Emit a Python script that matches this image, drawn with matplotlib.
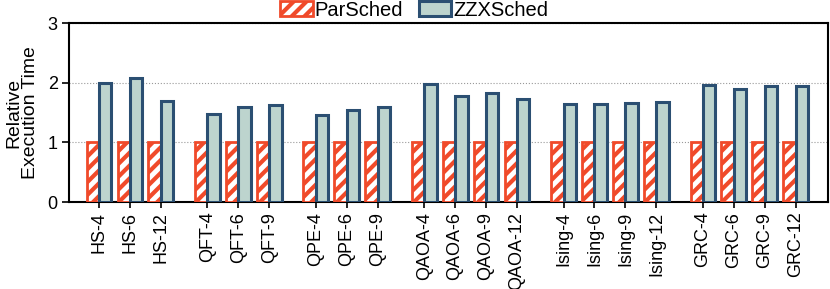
import numpy as np
import matplotlib.pyplot as plt

# hatch spacing follows the dpi, so render at 77 dpi and scale point sizes up
DPI = 77
K = 100 / DPI

plt.rcParams['font.family'] = ['Liberation Sans', 'DejaVu Sans']
plt.rcParams['hatch.linewidth'] = 3.0 * K

groups = ['HS', 'QFT', 'QPE', 'QAOA', 'Ising', 'GRC']
sizes = [[4, 6, 12], [4, 6, 9], [4, 6, 9], [4, 6, 9, 12], [4, 6, 9, 12], [4, 6, 9, 12]]
parsched = [1.0] * 21
zzxsched = [2.00, 2.08, 1.70, 1.48, 1.59, 1.63, 1.46, 1.54, 1.59,
            1.98, 1.78, 1.83, 1.73, 1.64, 1.64, 1.66, 1.68, 1.97, 1.89, 1.94, 1.95]

# positions: categories one unit apart, half a unit extra between groups
labels = []
xs = []
pos = 0.0
for g, ns in zip(groups, sizes):
    for n in ns:
        labels.append(f'{g}-{n}')
        xs.append(pos)
        pos += 1
    pos += 0.5
xs = np.array(xs)

red = '#f04a2a'
blue_edge = '#2b4f72'
blue_fill = '#bdd4ce'
w = 0.4

fig = plt.figure(figsize=(830 / DPI, 289 / DPI), dpi=DPI)
ax = fig.add_axes([0.083, 0.301, 0.915, 0.619])

ax.bar(xs - w / 2, parsched, w, color='white', edgecolor=red,
       hatch='//', linewidth=2.0 * K, label='ParSched', zorder=3)
ax.bar(xs + w / 2, zzxsched, w, color=blue_fill, edgecolor=blue_edge,
       linewidth=2.2 * K, label='ZZXSched', zorder=3)

ax.set_ylim(0, 3)
ax.set_yticks([0, 1, 2, 3])
ax.set_xlim(-0.97, 23.55)
ax.set_xticks(xs)
ax.set_xticklabels(labels, rotation=90, fontsize=13 * K)
ax.tick_params(axis='y', labelsize=13 * K, length=5 * K, width=1.2 * K, pad=3 * K)
ax.tick_params(axis='x', length=4 * K, width=1.2 * K, pad=3 * K)
ax.yaxis.grid(True, linestyle=':', color='#999999', linewidth=0.8 * K, zorder=0)
ax.set_axisbelow(True)
for s in ax.spines.values():
    s.set_linewidth(1.5 * K)

ax.set_ylabel('Relative\nExecution Time', fontsize=14 * K, linespacing=1.0, labelpad=6 * K)

ax.legend(loc='lower center', bbox_to_anchor=(0.455, 1.02), ncol=2, frameon=False,
          fontsize=14.5 * K, handlelength=1.6, handleheight=0.8, columnspacing=0.8,
          handletextpad=0.1, borderaxespad=0, borderpad=0)

fig.savefig('out.png', dpi=DPI)
